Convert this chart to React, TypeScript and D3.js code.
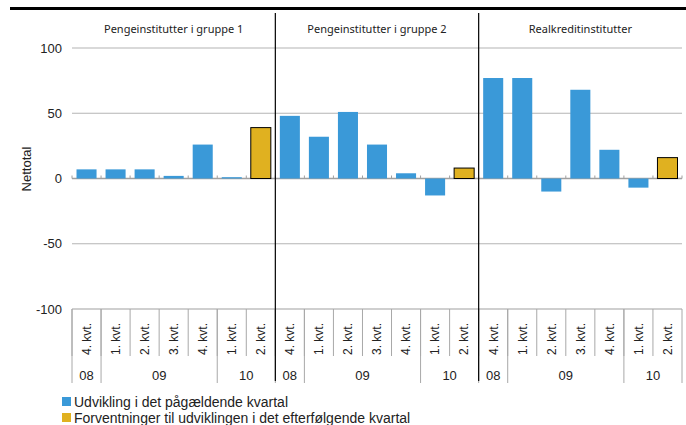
import React from "react";
import * as d3 from "d3";

const groups = ["Pengeinstitutter i gruppe 1", "Pengeinstitutter i gruppe 2", "Realkreditinstitutter"];
const quarters = ["4. kvt.", "1. kvt.", "2. kvt.", "3. kvt.", "4. kvt.", "1. kvt.", "2. kvt."];
const years = [
  { label: "08", n: 1 },
  { label: "09", n: 4 },
  { label: "10", n: 2 },
];
const group1 = [7, 7, 7, 2, 26, 1, 39];
const group2 = [48, 32, 51, 26, 4, -13, 8];
const group3 = [77, 77, -10, 68, 22, -7, 16];
const yTicks = [100, 50, 0, -50, -100];
const legendLabels = ["Udvikling i det pågældende kvartal", "Forventninger til udviklingen i det efterfølgende kvartal"];

const BLUE = "#3a99d8";
const YELLOW = "#e0b120";
const FONT = "'Liberation Sans', Arial, sans-serif";
const FONT2 = "'Noto Sans', 'Open Sans', sans-serif";

export default function App() {
  const W = 686, H = 425;
  const left = 72, right = 682, top = 48, bottom = 309;
  const allVals = [group1, group2, group3];
  const cats: { g: number; i: number; v: number; key: string }[] = [];
  allVals.forEach((arr, g) => arr.forEach((v, i) => cats.push({ g, i, v, key: `${g}-${i}` })));
  const x = d3.scaleBand<string>().domain(cats.map((c) => c.key)).range([left, right]).paddingInner(0.31).paddingOuter(0.155);
  const xb = d3.scaleBand<string>().domain(cats.map((c) => c.key)).range([left, right]);
  const y = d3.scaleLinear().domain([-100, 100]).range([bottom, top]);
  const step = xb.step();
  const groupW = step * 7;

  return (
    <svg width={W} height={H} style={{ position: "absolute", left: 0, top: 0 }}>
      <rect width={W} height={H} fill="#fff" />
      <line x1={10} x2={686} y1={8.5} y2={8.5} stroke="#000" strokeWidth={3} />
      {yTicks.map((t) => (
        <g key={t}>
          <line x1={left} x2={right} y1={y(t)} y2={y(t)} stroke={t === 0 || t === -100 ? "#a0a0a0" : "#b4b4b4"} strokeWidth={t === 0 ? 1.3 : 1.2} />
          <text x={62} y={y(t)} dy="0.36em" textAnchor="end" fontFamily={FONT} fontSize={13} fill="#222">{t}</text>
        </g>
      ))}
      {d3.range(22).map((k) => (
        <line key={k} x1={left + k * step} x2={left + k * step} y1={y(0)} y2={y(0) - 3} stroke="#a0a0a0" />
      ))}
      {cats.map((c) => {
        const isF = c.i === 6;
        const y0 = y(Math.max(0, c.v));
        const h = Math.abs(y(c.v) - y(0));
        return (
          <rect key={c.key} x={x(c.key)} y={y0} width={x.bandwidth()} height={h}
            fill={isF ? YELLOW : BLUE} stroke={isF ? "#000" : "none"} strokeWidth={isF ? 1 : 0} />
        );
      })}
      {cats.map((c, k) => (
        <g key={"l" + c.key}>
          <text transform={`translate(${xb(c.key)! + step / 2},${355}) rotate(-90)`} dy="0.36em" fontFamily={FONT} fontSize={12} fill="#222">{quarters[c.i]}</text>
          <line x1={left + k * step} x2={left + k * step} y1={bottom} y2={356} stroke="#a8a8a8" />
        </g>
      ))}
      <line x1={right} x2={right} y1={bottom} y2={383} stroke="#a8a8a8" />
      {groups.map((gName, g) => {
        let acc = 0;
        const gx = left + g * groupW;
        return (
          <g key={gName}>
            <text x={gx + groupW / 2} y={29} dy="0.36em" textAnchor="middle" fontFamily={FONT2} fontSize={11} fill="#222">{gName}</text>
            {years.map((yr) => {
              const x0 = gx + acc * step;
              acc += yr.n;
              return (
                <g key={yr.label}>
                  <line x1={x0} x2={x0} y1={bottom} y2={383} stroke="#a8a8a8" />
                  <text x={x0 + (yr.n * step) / 2} y={375} dy="0.36em" textAnchor="middle" fontFamily={FONT} fontSize={13} fill="#222">{yr.label}</text>
                </g>
              );
            })}
          </g>
        );
      })}
      {[1, 2].map((g) => (
        <line key={g} x1={left + g * groupW} x2={left + g * groupW} y1={13} y2={381} stroke="#000" strokeWidth={1.2} />
      ))}
      <text transform={`translate(26,169) rotate(-90)`} dy="0.36em" textAnchor="middle" fontFamily={FONT} fontSize={13} fill="#222">Nettotal</text>
      {legendLabels.map((l, i) => (
        <g key={l}>
          <rect x={62} y={397 + i * 16} width={9} height={9} fill={i === 0 ? BLUE : YELLOW} />
          <text x={74} y={402 + i * 16} dy="0.36em" fontFamily={FONT} fontSize={14} fill="#222">{l}</text>
        </g>
      ))}
    </svg>
  );
}
